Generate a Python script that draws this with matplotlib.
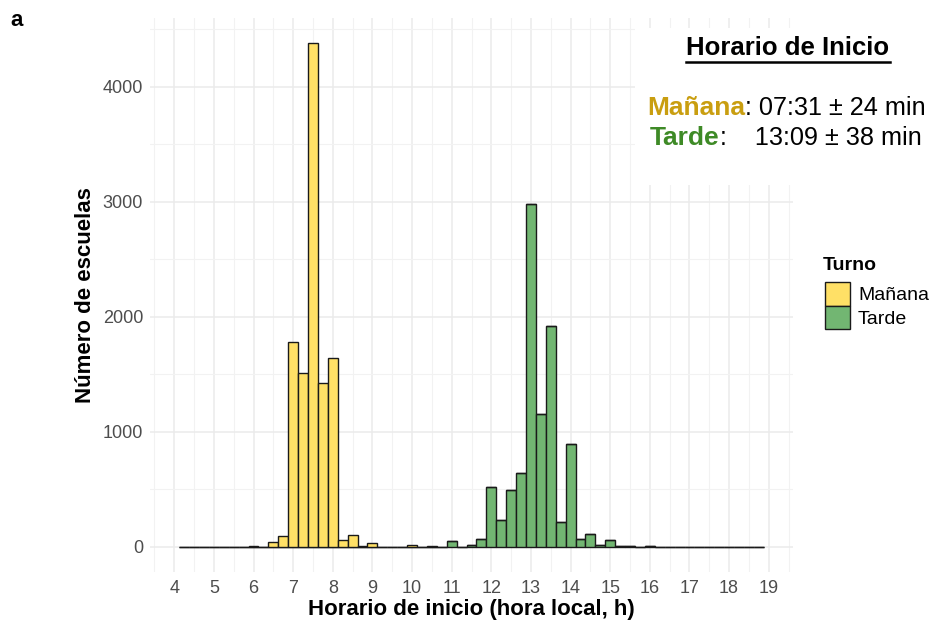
import matplotlib.pyplot as plt
from matplotlib.ticker import MultipleLocator
from matplotlib.patches import Patch
from matplotlib.lines import Line2D
from matplotlib.text import Annotation
import numpy as np

plt.rcParams['font.family'] = ['Liberation Sans', 'DejaVu Sans']

# bin centres (hours), binwidth 0.25
bin_start = 4.25
bin_width = 0.25
n_bins = 59
centers = bin_start + bin_width * np.arange(n_bins)

# counts (non-zero bins only, rest 0)
manana_bins = [6.0, 6.5, 6.75, 7.0, 7.25, 7.5, 7.75, 8.0, 8.25, 8.5, 8.75, 9.0, 10.0, 10.5]
manana_counts = [8, 40, 92, 1783, 1512, 4378, 1423, 1644, 58, 106, 10, 37, 12, 5]
tarde_bins = [11.0, 11.5, 11.75, 12.0, 12.25, 12.5, 12.75, 13.0, 13.25, 13.5, 13.75,
              14.0, 14.25, 14.5, 14.75, 15.0, 15.25, 15.5, 16.0]
tarde_counts = [50, 15, 72, 522, 235, 490, 640, 2977, 1157, 1920, 217,
                898, 67, 113, 15, 58, 5, 3, 10]

manana = np.zeros(n_bins)
tarde = np.zeros(n_bins)
for b, c in zip(manana_bins, manana_counts):
    manana[int(round((b - bin_start) / bin_width))] = c
for b, c in zip(tarde_bins, tarde_counts):
    tarde[int(round((b - bin_start) / bin_width))] = c

col_manana = '#FFE066'
col_tarde = '#72B672'
txt_manana = '#C99E10'
txt_tarde = '#3E8A26'

fig = plt.figure(figsize=(9.34, 6.3), dpi=100)
ax = fig.add_axes([150 / 934, 58 / 630, 643 / 934, 554 / 630])

ax.bar(centers, tarde, width=bin_width, color=col_tarde, edgecolor='#1a1a1a', linewidth=1.0, zorder=3)
ax.bar(centers, manana, width=bin_width, bottom=tarde, color=col_manana, edgecolor='#1a1a1a',
       linewidth=1.0, zorder=3)

x_lo = centers[0] - bin_width / 2
x_hi = centers[-1] + bin_width / 2
pad = (x_hi - x_lo) * 0.05
ax.set_xlim(x_lo - pad, x_hi + pad)
ymax = (manana + tarde).max()
ax.set_ylim(-ymax * 0.05, ymax * 1.05)

ax.xaxis.set_major_locator(MultipleLocator(1))
ax.xaxis.set_minor_locator(MultipleLocator(0.5))
ax.yaxis.set_major_locator(MultipleLocator(1000))
ax.yaxis.set_minor_locator(MultipleLocator(500))
ax.grid(which='major', color='#EBEBEB', linewidth=1.1, zorder=0)
ax.grid(which='minor', color='#F2F2F2', linewidth=0.8, zorder=0)
ax.set_axisbelow(True)
for s in ax.spines.values():
    s.set_visible(False)
ax.tick_params(which='both', length=0, labelsize=13, labelcolor='#4D4D4D')
ax.tick_params(axis='x', pad=6)
ax.tick_params(axis='y', pad=5)

ax.set_xlabel('Horario de inicio (hora local, h)', fontsize=16, fontweight='bold', labelpad=1)
ax.set_ylabel('Número de escuelas', fontsize=16, fontweight='bold', labelpad=5)

fig.text(10 / 934, 1 - 20 / 630, 'a', fontsize=16, fontweight='bold', va='center', ha='left')

# annotation box (white background over the grid)
fig.patches.append(plt.Rectangle((635 / 934, 1 - 185 / 630), 299 / 934, 157 / 630,
                                 transform=fig.transFigure, facecolor='white', edgecolor='none',
                                 zorder=5))
title = fig.text(788 / 934, 1 - 48 / 630, 'Horario de Inicio', fontsize=18.5, fontweight='bold',
                 ha='center', va='center', zorder=6)
fig.canvas.draw()
bb = title.get_window_extent().transformed(fig.transFigure.inverted())
fig.add_artist(Line2D([bb.x0, bb.x1], [bb.y0 - 0.003, bb.y0 - 0.003], transform=fig.transFigure,
                      color='black', linewidth=1.8, zorder=6))

t1 = fig.text(647 / 934, 1 - 108 / 630, 'Mañana', fontsize=19, fontweight='bold', color=txt_manana,
              ha='left', va='center', zorder=6)
a1 = Annotation(': 07:31 ± 24 min', xy=(1, 0), xycoords=t1, xytext=(0, 0), textcoords='offset points',
                fontsize=18.2, color='black', ha='left', va='bottom', zorder=6)
fig.add_artist(a1)
t2 = fig.text(650 / 934, 1 - 138 / 630, 'Tarde', fontsize=19, fontweight='bold', color=txt_tarde,
              ha='left', va='center', zorder=6)
a2 = Annotation(':    13:09 ± 38 min', xy=(1, 0), xycoords=t2, xytext=(0, 0), textcoords='offset points',
                fontsize=18.2, color='black', ha='left', va='bottom', zorder=6)
fig.add_artist(a2)

# legend
fig.text(823 / 934, 1 - 265 / 630, 'Turno', fontsize=14, fontweight='bold', ha='left', va='center')
handles = [Patch(facecolor=col_manana, edgecolor='#1a1a1a', linewidth=1.0, label='Mañana'),
           Patch(facecolor=col_tarde, edgecolor='#1a1a1a', linewidth=1.0, label='Tarde')]
leg = fig.legend(handles=handles, loc='upper left',
                 bbox_to_anchor=(825 / 934, 1 - 282 / 630), frameon=False, fontsize=14,
                 handlelength=1.3, handleheight=1.5, handletextpad=0.4, labelspacing=0.0,
                 borderaxespad=0, borderpad=0)

fig.savefig('out.png', dpi=100)
